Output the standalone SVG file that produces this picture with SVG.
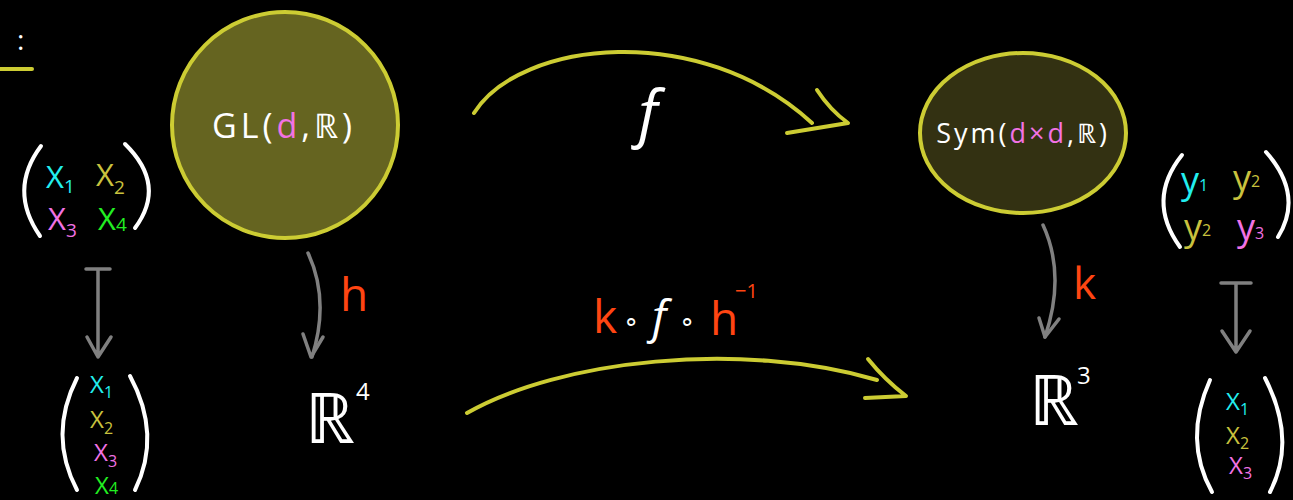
<svg xmlns="http://www.w3.org/2000/svg" width="1293" height="500" viewBox="0 0 1293 500">
<style>
text{font-family:"Open Sans","Liberation Sans",sans-serif;fill:#fff}
.w{fill:#fff}.c{fill:#22eeee}.y{fill:#c9c23e}.p{fill:#f272e4}.g{fill:#22ee22}.o{fill:#ff4512}
.paren{fill:none;stroke:#fff;stroke-width:4;stroke-linecap:round}
.yl{fill:none;stroke:#cccc33;stroke-width:4;stroke-linecap:round;stroke-linejoin:round}
.gr{fill:none;stroke:#808080;stroke-width:3.5;stroke-linecap:round;stroke-linejoin:round}
.sub{font-size:19px}
.sub2{font-size:16px}
</style>
<rect width="1293" height="500" fill="#000"/>

<g id="corner">
<text x="17" y="50" font-size="28">:</text>
<line x1="0" y1="69" x2="32" y2="69" class="yl"/>
</g>

<g id="matrix-left">
<path class="paren" d="M41,146 Q8,190 40,236"/>
<path class="paren" d="M125,144 Q167,185 135,228"/>
<text x="46" y="188" font-size="31" class="c">X<tspan class="sub" dy="5">1</tspan></text>
<text x="96" y="186" font-size="31" class="y">X<tspan class="sub" dy="8">2</tspan></text>
<text x="48" y="230" font-size="31" class="p">X<tspan class="sub" dy="7">3</tspan></text>
<text x="98" y="230" font-size="31" class="g">X<tspan class="sub" dy="1">4</tspan></text>
</g>

<g id="vector-left">
<path class="paren" d="M77,378 Q48,435 77,490"/>
<path class="paren" d="M130,376 Q162,435 135,490"/>
<text x="90" y="393" font-size="24" class="c">X<tspan class="sub2" dy="5">1</tspan></text>
<text x="90" y="428" font-size="24" class="y">X<tspan class="sub2" dy="6">2</tspan></text>
<text x="94" y="461" font-size="24" class="p">X<tspan class="sub2" dy="6">3</tspan></text>
<text x="95" y="494" font-size="24" class="g">X<tspan class="sub2" dy="0">4</tspan></text>
</g>

<g id="gl">
<circle cx="285" cy="125" r="113" fill="#656420" stroke="#cccc33" stroke-width="4"/>
<text x="284" y="138" font-size="34" text-anchor="middle" letter-spacing="4">GL(<tspan class="p">d</tspan>,ℝ)</text>
</g>

<g id="r4">
<text x="305" y="443" font-size="70">ℝ</text>
<text x="356" y="400" font-size="24">4</text>
</g>

<g id="sym">
<ellipse cx="1023" cy="133" rx="103" ry="80" fill="#333112" stroke="#cccc33" stroke-width="4"/>
<text x="1023" y="143" font-size="27" text-anchor="middle" letter-spacing="3">Sym(<tspan class="p">d×d</tspan>,ℝ)</text>
</g>

<g id="r3">
<text x="1029" y="425" font-size="70">ℝ</text>
<text x="1077" y="384" font-size="24">3</text>
</g>

<g id="matrix-right">
<path class="paren" d="M1182,155 Q1146,200 1180,247"/>
<path class="paren" d="M1266,152 Q1304,195 1278,237"/>
<text x="1181" y="193" font-size="36" class="c">y<tspan class="sub2" dy="-2">1</tspan></text>
<text x="1233" y="191" font-size="36" class="y">y<tspan class="sub2" dy="-4">2</tspan></text>
<text x="1184" y="240" font-size="36" class="y">y<tspan class="sub2" dy="-4">2</tspan></text>
<text x="1237" y="240" font-size="36" class="p">y<tspan class="sub2" dy="-1">3</tspan></text>
</g>

<g id="vector-right">
<path class="paren" d="M1210,380 Q1183,440 1212,492"/>
<path class="paren" d="M1265,378 Q1297,440 1270,492"/>
<text x="1226" y="410" font-size="24" class="c">X<tspan class="sub2" dy="5">1</tspan></text>
<text x="1226" y="444" font-size="24" class="y">X<tspan class="sub2" dy="5">2</tspan></text>
<text x="1229" y="474" font-size="24" class="p">X<tspan class="sub2" dy="5">3</tspan></text>
</g>

<g id="connectors">
<path class="yl" d="M474,113 C520,40 700,20 812,123"/>
<path class="yl" d="M817,90 Q830,110 848,123 L787,133"/>
<path class="yl" d="M467,413 C560,360 740,340 877,380"/>
<path class="yl" d="M868,359 Q885,380 906,396 L865,398"/>
<path class="gr" d="M308,253 Q330,300 312,357"/>
<path class="gr" d="M303,334 L311,357 L323,337"/>
<path class="gr" d="M1043,225 Q1066,275 1045,337"/>
<path class="gr" d="M1039,318 L1045,337 L1059,319"/>
<path class="gr" d="M86,269 L110,269 M98,269 L98,357 M87,337 L98,357 L111,337"/>
<path class="gr" d="M1221,283 L1251,283 M1236,283 L1236,352 M1222,331 L1236,352 L1250,331"/>
</g>

<g id="labels">
<text x="648" y="135" font-size="62" font-family="Liberation Serif" font-style="italic" text-anchor="middle">f</text>
<text x="340" y="311" font-size="46" class="o">h</text>
<text x="1073" y="299" font-size="44" class="o">k</text>
<text x="593" y="333" font-size="46" class="o">k</text>
<text x="623" y="330" font-size="26">∘</text>
<text x="652" y="333" font-size="46" font-family="Liberation Serif" font-style="italic">f</text>
<text x="679" y="330" font-size="26">∘</text>
<text x="710" y="335" font-size="46" class="o">h</text>
<text x="735" y="298" font-size="20" class="o">−1</text>
</g>
</svg>
